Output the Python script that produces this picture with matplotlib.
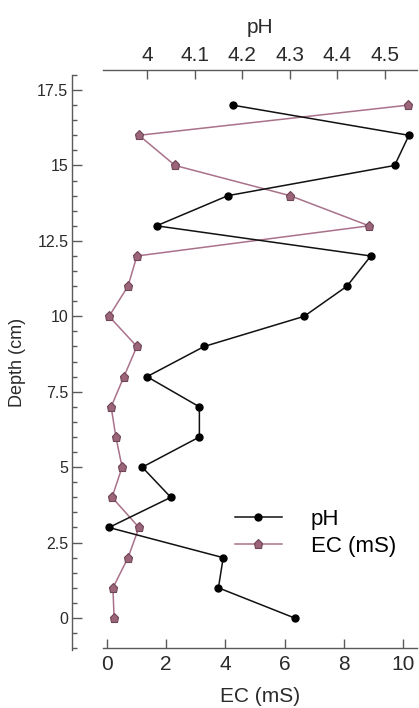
import matplotlib
matplotlib.use("Agg")
import matplotlib.pyplot as plt
from matplotlib.ticker import MultipleLocator, FormatStrFormatter, FuncFormatter

plt.rcParams["font.family"] = ["Liberation Sans", "DejaVu Sans"]

# depth profile (top to bottom)
depth = [17, 16, 15, 14, 13, 12, 11, 10, 9, 8, 7, 6, 5, 4, 3, 2, 1, 0]
ph = [4.18, 4.55, 4.52, 4.17, 4.02, 4.47, 4.42, 4.33, 4.12,
      4.00, 4.11, 4.11, 3.99, 4.05, 3.92, 4.16, 4.15, 4.31]
ec = [10.17, 1.08, 2.30, 6.18, 8.85, 1.01, 0.71, 0.07, 1.01,
      0.57, 0.14, 0.30, 0.51, 0.17, 1.08, 0.71, 0.20, 0.24]

ec_ticks = [0, 2, 4, 6, 8, 10]
ph_ticks = [4.0, 4.1, 4.2, 4.3, 4.4, 4.5]

AXCOL = "#5a5a5a"
TXTCOL = "#2a2a2a"
EC_LINE = "#a9718a"
EC_FACE = "#9b6479"
EC_EDGE = "#6e4556"

fig = plt.figure(figsize=(4.19, 7.08), dpi=100)
ax = fig.add_axes([103 / 419, 0.0845, 314 / 419, 0.816])

# EC on the bottom axis
l_ec, = ax.plot(ec, depth, color=EC_LINE, lw=1.1, marker="p", ms=6.5,
                mfc=EC_FACE, mec=EC_EDGE, mew=0.8, label="EC (mS)", zorder=2)
ax.set_xlim(-0.135, 10.47)
ax.set_ylim(-1, 18.15)
ax.set_xticks(ec_ticks)
ax.yaxis.set_major_locator(MultipleLocator(2.5))
ax.yaxis.set_minor_locator(MultipleLocator(0.5))
ax.yaxis.set_major_formatter(FuncFormatter(lambda v, p: "%g" % v))

for s in ["top", "right"]:
    ax.spines[s].set_visible(False)
ax.spines["left"].set_position(("outward", 22))
ax.spines["left"].set_bounds(-1.05, 18)
for s in ["left", "bottom"]:
    ax.spines[s].set_color(AXCOL)
    ax.spines[s].set_linewidth(1.0)

ax.tick_params(axis="x", direction="in", length=6.5, width=1.0, color=AXCOL,
               labelsize=15, labelcolor=TXTCOL, pad=5)
ax.tick_params(axis="y", which="major", direction="in", length=7, width=1.0,
               color=AXCOL, labelsize=11.5, labelcolor=TXTCOL, pad=3)
ax.tick_params(axis="y", which="minor", direction="in", length=3.5, width=1.0,
               color=AXCOL)
ax.set_xlabel("EC (mS)", fontsize=15, color=TXTCOL, labelpad=9)

# pH on the top axis
tw = ax.twiny()
l_ph, = tw.plot(ph, depth, color="#111111", lw=1.1, marker="o", ms=5,
                mfc="#000000", mec="#000000", label="pH", zorder=3)
tw.set_xlim(3.9076, 4.567)
tw.set_xticks(ph_ticks)
tw.xaxis.set_major_formatter(FormatStrFormatter("%g"))
for s in ["bottom", "left", "right"]:
    tw.spines[s].set_visible(False)
tw.spines["top"].set_color(AXCOL)
tw.spines["top"].set_linewidth(1.0)
tw.tick_params(axis="x", direction="in", length=6.5, width=1.0, color=AXCOL,
               labelsize=15, labelcolor=TXTCOL, pad=4)
tw.set_xlabel("pH", fontsize=15, color=TXTCOL, labelpad=9)

fig.text(18 / 419, 1 - 362 / 708, "Depth (cm)", rotation=90, ha="center",
         va="center", fontsize=13, color=TXTCOL)

tw.legend(handles=[l_ph, l_ec], loc="center left", frameon=False,
          bbox_to_anchor=(235 / 419, 1 - 533 / 708),
          bbox_transform=fig.transFigure, fontsize=16, handlelength=2.1,
          handletextpad=1.3, labelspacing=0.25, borderpad=0, borderaxespad=0)

fig.savefig("out.png", dpi=100, facecolor="white")
